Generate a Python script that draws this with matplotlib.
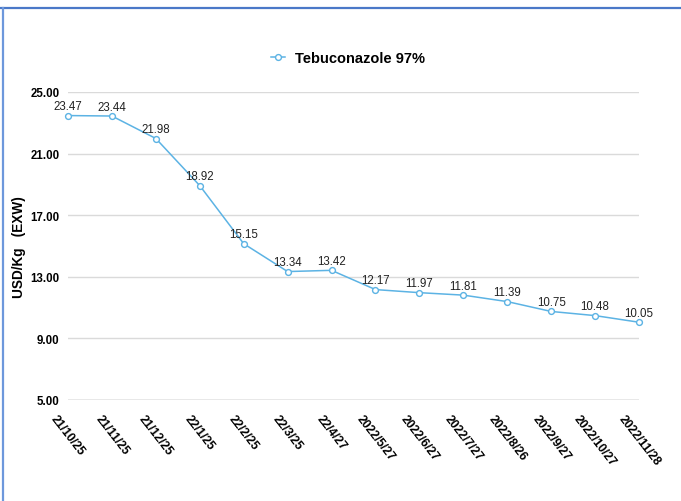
import matplotlib.pyplot as plt
from matplotlib.lines import Line2D

# prisdata Tebuconazole 97%
dates = ['21/10/25', '21/11/25', '21/12/25', '22/1/25', '22/2/25', '22/3/25', '22/4/27',
         '2022/5/27', '2022/6/27', '2022/7/27', '2022/8/26', '2022/9/27', '2022/10/27',
         '2022/11/28']
prices = [23.47, 23.44, 21.98, 18.92, 15.15, 13.34, 13.42,
          12.17, 11.97, 11.81, 11.39, 10.75, 10.48, 10.05]
yticks = [5, 9, 13, 17, 21, 25]

plt.rcParams['font.family'] = ['Liberation Sans', 'DejaVu Sans']

line_color = '#5cb3e4'

fig = plt.figure(figsize=(6.81, 5.02), dpi=100)
ax = fig.add_axes([68 / 681, 1 - 401 / 502, (639 - 68) / 681, (401 - 93) / 502])

x = list(range(len(dates)))
ax.plot(x, prices, color=line_color, lw=1.1, marker='o', markersize=4.2,
        markerfacecolor='white', markeredgecolor=line_color, markeredgewidth=1.0,
        label='Tebuconazole 97%', zorder=3, clip_on=False)

for xi, p in zip(x, prices):
    ax.annotate(f'{p:.2f}', (xi, p), xytext=(0, 2.5), textcoords='offset points',
                ha='center', va='bottom', fontsize=8.3, color='#222222')

ax.set_xlim(0, len(dates) - 1)
ax.set_ylim(5, 25)
ax.set_yticks(yticks)
ax.set_yticklabels([f'{v:.2f}' for v in yticks], fontsize=8.3, fontweight='bold')
ax.set_xticks(x)
ax.set_xticklabels(dates, rotation=-52, ha='center', va='top', fontsize=8.7,
                   fontweight='bold')
ax.tick_params(axis='both', length=0)
ax.tick_params(axis='y', pad=6)
ax.tick_params(axis='x', pad=9)

# rutnät
for v in yticks[1:]:
    ax.axhline(v, color='#dadada', lw=1.0, zorder=1)
ax.axhline(5, color='#8a8a8a', lw=1.0, zorder=1)
for s in ax.spines.values():
    s.set_visible(False)

fig.text(19 / 681, 1 - 247 / 502, 'USD/Kg   (EXW)', rotation=90, ha='center', va='center',
         fontsize=9.8, fontweight='bold')

ax.legend(loc='center', bbox_to_anchor=(348 / 681, 1 - 59 / 502),
          bbox_transform=fig.transFigure, frameon=False, handlelength=1.0,
          handletextpad=0.7, prop={'size': 10.5, 'weight': 'bold'})

# blå ram uppe och till vänster
fig.add_artist(Line2D([0, 1], [1 - 9 / 502, 1 - 9 / 502], transform=fig.transFigure,
                      color='#4a78c8', lw=1.6))
fig.add_artist(Line2D([3 / 681, 3 / 681], [0, 1 - 9 / 502], transform=fig.transFigure,
                      color='#6d98dc', lw=1.6))

fig.savefig('out.png', dpi=100)
